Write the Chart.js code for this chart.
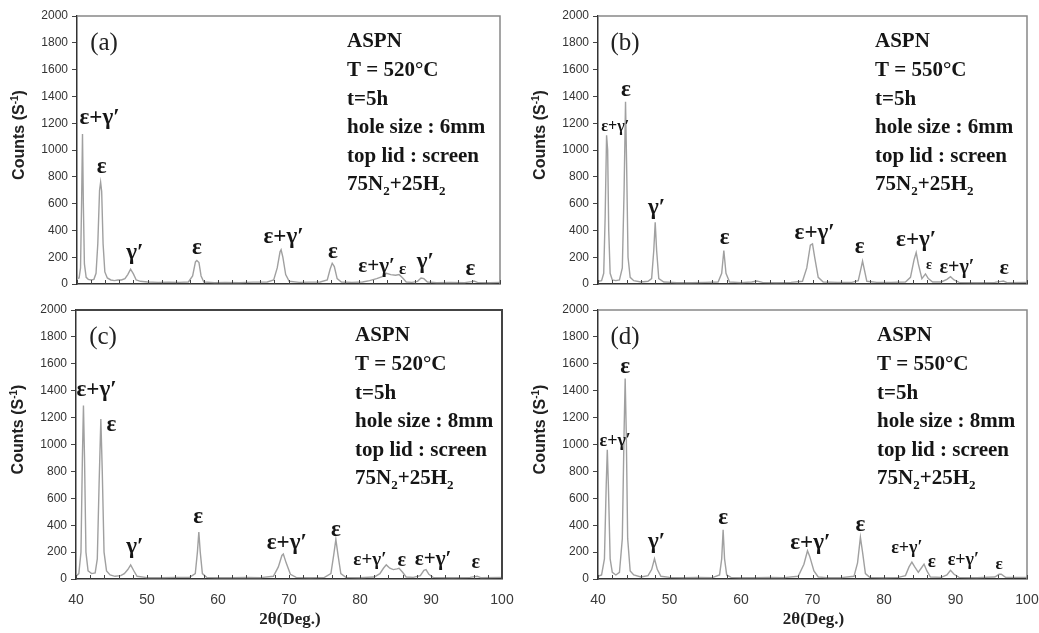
<!DOCTYPE html>
<html>
<head>
<meta charset="utf-8">
<script src="https://cdn.jsdelivr.net/npm/chart.js@4.4.1/dist/chart.umd.min.js"></script>
<style>
body { margin: 0; background: #fff; width: 1039px; height: 633px; position: relative; overflow: hidden; }
canvas { position: absolute; }
</style>
</head>
<body>
<canvas id="chart_a" width="520" height="295" style="left:0;top:0"></canvas>
<canvas id="chart_b" width="519" height="295" style="left:520px;top:0"></canvas>
<canvas id="chart_c" width="520" height="338" style="left:0;top:295px"></canvas>
<canvas id="chart_d" width="519" height="338" style="left:520px;top:295px"></canvas>
<script>
// XRD patterns: [2theta, counts]
const patternA = [
    [40.0, 40], [40.3, 45], [40.5, 120], [40.65, 600], [40.78, 1120], [40.9, 600], [41.05, 150], [41.3, 50],
    [41.6, 35], [42.0, 30], [42.4, 35], [42.7, 80], [42.95, 300], [43.2, 700], [43.35, 760], [43.5, 690],
    [43.7, 300], [43.95, 90], [44.3, 45], [44.8, 30], [45.3, 25], [45.8, 30], [46.3, 30], [46.8, 40],
    [47.2, 70], [47.6, 110], [48.0, 75], [48.4, 30], [49.0, 20], [50, 15], [51.5, 12], [53, 14],
    [54.5, 12], [55.8, 15], [56.4, 60], [56.8, 165], [57.0, 175], [57.3, 160], [57.6, 60], [58.0, 15],
    [59.5, 10], [61, 12], [63, 10], [65, 14], [67, 15], [67.9, 30], [68.4, 120], [68.8, 240],
    [68.95, 255], [69.2, 200], [69.6, 70], [70.1, 20], [71.5, 12], [73, 14], [74.5, 15], [75.5, 30],
    [75.9, 110], [76.2, 155], [76.5, 130], [76.9, 40], [77.5, 15], [79, 12], [80.5, 15], [81.5, 25],
    [82.5, 40], [83.3, 55], [83.9, 80], [84.5, 70], [85.2, 65], [85.7, 70], [86.2, 45], [86.7, 15],
    [87.5, 12], [88.3, 20], [88.8, 45], [89.2, 40], [89.7, 15], [91, 10], [93, 12], [95, 10],
    [96.0, 18], [96.3, 22], [96.8, 12], [98.5, 10], [100, 12]
]
const patternB = [
    [40.0, 20], [40.5, 25], [40.8, 80], [41.0, 500], [41.2, 1110], [41.35, 1000], [41.5, 400], [41.7, 80],
    [42.0, 30], [42.5, 25], [43.0, 30], [43.4, 120], [43.65, 700], [43.85, 1360], [44.0, 900], [44.2, 200],
    [44.5, 50], [45.0, 25], [46, 15], [47, 20], [47.5, 40], [47.8, 250], [48.0, 460], [48.2, 250],
    [48.5, 40], [49.2, 15], [51, 10], [53, 10], [55, 12], [56.8, 15], [57.3, 80], [57.6, 250],
    [57.9, 80], [58.4, 15], [60, 10], [61.5, 15], [62.2, 22], [63, 12], [65, 10], [67, 12],
    [68.6, 20], [69.2, 120], [69.7, 290], [70.0, 300], [70.3, 200], [70.8, 50], [71.5, 15], [73.5, 12],
    [75.5, 12], [76.4, 25], [76.8, 120], [77.0, 170], [77.2, 120], [77.6, 20], [79, 12], [81, 12],
    [83.0, 15], [83.7, 50], [84.2, 180], [84.5, 235], [84.8, 150], [85.3, 40], [85.8, 75], [86.2, 40],
    [86.8, 15], [88, 15], [88.8, 35], [89.3, 55], [89.8, 30], [90.5, 12], [93, 10], [95.5, 12],
    [96.4, 20], [96.7, 22], [97.2, 10], [100, 12]
]
const patternC = [
    [40, 20], [40.4, 40], [40.7, 200], [40.9, 900], [41.05, 1290], [41.2, 900], [41.4, 200], [41.7, 60],
    [42.2, 40], [42.7, 45], [43.0, 150], [43.25, 700], [43.5, 1190], [43.7, 800], [43.95, 200], [44.3, 60],
    [44.8, 30], [45.5, 20], [46.3, 25], [46.8, 40], [47.3, 70], [47.7, 105], [48.1, 65], [48.6, 20],
    [50, 10], [52, 10], [54, 12], [56, 12], [56.8, 40], [57.1, 200], [57.3, 350], [57.5, 200],
    [57.8, 40], [58.4, 12], [60, 10], [62, 10], [64, 12], [66, 10], [67.8, 20], [68.5, 90],
    [69.0, 175], [69.2, 185], [69.6, 120], [70.2, 35], [71, 12], [73, 10], [75, 12], [75.9, 40],
    [76.3, 180], [76.6, 295], [76.9, 180], [77.3, 40], [78, 12], [80, 10], [82.0, 15], [82.8, 40],
    [83.3, 80], [83.7, 105], [84.2, 80], [84.7, 70], [85.2, 75], [85.5, 80], [86.0, 50], [86.5, 15],
    [87.5, 12], [88.5, 25], [89.0, 65], [89.3, 70], [89.7, 35], [90.3, 12], [93, 10], [95.5, 12],
    [96.2, 18], [96.5, 20], [97, 10], [100, 12]
]
const patternD = [
    [40, 20], [40.5, 30], [40.9, 150], [41.15, 700], [41.3, 960], [41.45, 700], [41.7, 150], [42.0, 50],
    [42.5, 30], [43.0, 50], [43.4, 300], [43.65, 1100], [43.8, 1490], [43.95, 1100], [44.15, 300], [44.5, 60],
    [45.0, 30], [46, 15], [47, 25], [47.5, 70], [47.9, 150], [48.3, 70], [48.8, 20], [50, 12],
    [52, 10], [54, 12], [56, 10], [57.0, 30], [57.3, 150], [57.5, 365], [57.7, 150], [58.0, 30],
    [58.6, 12], [60, 10], [62, 10], [64, 12], [66, 10], [68, 20], [68.8, 110], [69.3, 210],
    [69.6, 170], [70.2, 60], [70.8, 15], [72, 10], [74, 10], [75.8, 20], [76.3, 120], [76.7, 310],
    [77.0, 200], [77.4, 40], [78, 12], [80, 10], [82, 12], [83.0, 25], [83.5, 90], [83.9, 125],
    [84.3, 90], [84.8, 50], [85.2, 80], [85.6, 110], [86.0, 60], [86.5, 15], [88, 12], [88.8, 30],
    [89.3, 65], [89.8, 35], [90.5, 12], [93, 10], [95.5, 15], [96.1, 35], [96.4, 35], [97.0, 12],
    [100, 12]
]

// peak labels: [2theta, counts, text, font px]
const labelsA = [
    [43.2, 1240, 'ε+γ′', 23], [43.5, 875, 'ε', 23], [48.2, 229, 'γ′', 23], [57.0, 266, 'ε', 23],
    [69.3, 353, 'ε+γ′', 23], [76.3, 241, 'ε', 23], [82.5, 129, 'ε+γ′', 21], [86.2, 110, 'ε', 17],
    [89.4, 166, 'γ′', 23], [95.8, 110, 'ε', 23]
]
const labelsB = [
    [42.4, 1174, 'ε+γ′', 16], [43.9, 1448, 'ε', 23], [48.2, 565, 'γ′', 23], [57.7, 341, 'ε', 23],
    [70.3, 378, 'ε+γ′', 23], [76.6, 274, 'ε', 23], [84.5, 328, 'ε+γ′', 23], [86.3, 142, 'ε', 14],
    [90.2, 117, 'ε+γ′', 20], [96.8, 117, 'ε', 22]
]
const labelsC = [
    [42.9, 1405, 'ε+γ′', 23], [45.0, 1145, 'ε', 23], [48.3, 240, 'γ′', 23], [57.2, 463, 'ε', 23],
    [69.7, 265, 'ε+γ′', 23], [76.6, 364, 'ε', 23], [81.4, 141, 'ε+γ′', 19], [85.9, 136, 'ε', 20],
    [90.3, 141, 'ε+γ′', 21], [96.3, 117, 'ε', 20]
]
const labelsD = [
    [42.4, 1021, 'ε+γ′', 18], [43.8, 1579, 'ε', 23], [48.2, 277, 'γ′', 23], [57.5, 451, 'ε', 23],
    [69.7, 265, 'ε+γ′', 23], [76.7, 401, 'ε', 23], [83.2, 228, 'ε+γ′', 18], [86.7, 129, 'ε', 19],
    [91.1, 141, 'ε+γ′', 18], [96.1, 104, 'ε', 17]
]

// "_2" means subscript 2
const infoA = ['ASPN', 'T = 520°C', 't=5h', 'hole size : 6mm', 'top lid : screen', '75N_2+25H_2']
const infoB = ['ASPN', 'T = 550°C', 't=5h', 'hole size : 6mm', 'top lid : screen', '75N_2+25H_2']
const infoC = ['ASPN', 'T = 520°C', 't=5h', 'hole size : 8mm', 'top lid : screen', '75N_2+25H_2']
const infoD = ['ASPN', 'T = 550°C', 't=5h', 'hole size : 8mm', 'top lid : screen', '75N_2+25H_2']

const panels = [
    {id: 'chart_a', tag: '(a)', data: patternA, labels: labelsA, info: infoA, infoX: 270, w: 520, h: 295, left: 77, top: 16, right: 500, bottom: 284, xLabels: false, frame: '#888', frameW: 1.5},
    {id: 'chart_b', tag: '(b)', data: patternB, labels: labelsB, info: infoB, infoX: 277, w: 519, h: 295, left: 78, top: 16, right: 507, bottom: 284, xLabels: false, frame: '#888', frameW: 1.5},
    {id: 'chart_c', tag: '(c)', data: patternC, labels: labelsC, info: infoC, infoX: 279, w: 520, h: 338, left: 76, top: 15, right: 502, bottom: 284, xLabels: true, frame: '#444', frameW: 2},
    {id: 'chart_d', tag: '(d)', data: patternD, labels: labelsD, info: infoD, infoX: 279, w: 519, h: 338, left: 78, top: 15, right: 507, bottom: 284, xLabels: true, frame: '#888', frameW: 1.5},
]

const SERIF = "'Liberation Serif', 'Times New Roman', serif"
const SANS = "'Liberation Sans', Arial, sans-serif"

function draw_sub_line(ctx, text, x, y, size) {
    // draws text where "_c" puts c as subscript
    let cx = x
    let i = 0
    while (i < text.length) {
        if (text[i] === '_') {
            ctx.font = "bold " + Math.round(size * 0.6) + "px " + SERIF
            ctx.fillText(text[i + 1], cx, y + size * 0.32)
            cx += ctx.measureText(text[i + 1]).width
            i += 2
        } else {
            let j = i
            while (j < text.length && text[j] !== '_') j++
            ctx.font = "bold " + size + "px " + SERIF
            ctx.fillText(text.slice(i, j), cx, y)
            cx += ctx.measureText(text.slice(i, j)).width
            i = j
        }
    }
}

function text_plugin(p) {
    return {
        id: 'panel_text_' + p.id,
        afterDraw(chart) {
            const ctx = chart.ctx
            const a = chart.chartArea
            const xs = chart.scales.x
            const ys = chart.scales.y
            ctx.save()

            // top and right frame
            ctx.strokeStyle = p.frame
            ctx.lineWidth = p.frameW
            ctx.beginPath()
            ctx.moveTo(a.left, a.top)
            ctx.lineTo(a.right, a.top)
            ctx.lineTo(a.right, a.bottom)
            ctx.stroke()

            // x ticks point inward
            ctx.strokeStyle = '#444'
            ctx.lineWidth = 1
            ctx.beginPath()
            for (let t of xs.ticks) {
                const px = Math.round(xs.getPixelForValue(t.value)) + 0.5
                ctx.moveTo(px, a.bottom)
                ctx.lineTo(px, a.bottom - 4)
            }
            ctx.stroke()

            ctx.fillStyle = '#151515'
            ctx.textAlign = 'center'
            ctx.textBaseline = 'middle'
            for (let [x, y, txt, size] of p.labels) {
                ctx.font = "bold " + size + "px " + SERIF
                ctx.fillText(txt, xs.getPixelForValue(x), ys.getPixelForValue(y))
            }

            // panel tag
            ctx.font = "25px " + SERIF
            ctx.fillStyle = '#222'
            ctx.fillText(p.tag, a.left + 27, a.top + 27)

            // condition block
            ctx.fillStyle = '#151515'
            ctx.textAlign = 'left'
            p.info.forEach((line, k) => {
                draw_sub_line(ctx, line, a.left + p.infoX, a.top + 26 + k * 28.6, 21)
            })

            // y axis title with superscript
            ctx.save()
            ctx.translate(a.left - 57, (a.top + a.bottom) / 2 - 15)
            ctx.rotate(-Math.PI / 2)
            ctx.fillStyle = '#222'
            ctx.textAlign = 'left'
            const big = "bold 16px " + SANS
            const small = "bold 10px " + SANS
            ctx.font = big
            const w1 = ctx.measureText('Counts (S').width
            const w3 = ctx.measureText(')').width
            ctx.font = small
            const w2 = ctx.measureText('-1').width
            let sx = -(w1 + w2 + w3) / 2
            ctx.font = big
            ctx.fillText('Counts (S', sx, 0)
            ctx.font = small
            ctx.fillText('-1', sx + w1, -5)
            ctx.font = big
            ctx.fillText(')', sx + w1 + w2, 0)
            ctx.restore()

            if (p.xLabels) {
                ctx.textAlign = 'center'
                ctx.fillStyle = '#222'
                ctx.font = "bold 17px " + SERIF
                ctx.fillText('2θ(Deg.)', (a.left + a.right) / 2 + 1, 325)
            }
            ctx.restore()
        }
    }
}

for (let p of panels) {
    new Chart(p.id, {
        type: 'line',
        data: {
            datasets: [{
                data: p.data,
                borderColor: '#a0a0a0',
                borderWidth: 1.4,
                pointRadius: 0,
                tension: 0,
                fill: false
            }]
        },
        options: {
            responsive: false,
            animation: false,
            events: [],
            layout: {padding: {left: 0, top: p.top, right: p.w - p.right, bottom: 0}},
            plugins: {legend: {display: false}, tooltip: {enabled: false}},
            scales: {
                x: {
                    type: 'linear', min: 40, max: 100,
                    border: {color: '#333', width: 1.5},
                    grid: {drawOnChartArea: false, drawTicks: false},
                    ticks: {
                        stepSize: 2, autoSkip: false, maxRotation: 0, padding: 13,
                        color: '#3a3a3a', font: {family: SANS, size: 14},
                        callback: (v) => (p.xLabels && v % 10 === 0) ? String(v) : ''
                    },
                    afterFit: (s) => {
                        s.height = p.h - p.bottom
                        s.paddingLeft = 0
                        s.paddingRight = 0
                    }
                },
                y: {
                    min: 0, max: 2000,
                    border: {color: '#333', width: 1.5},
                    grid: {drawOnChartArea: false, tickLength: 5, color: '#444'},
                    ticks: {
                        stepSize: 200, padding: 4, color: '#333', font: {family: SANS, size: 12},
                        callback: (v) => String(v)
                    },
                    afterFit: (s) => {
                        s.width = p.left
                        s.paddingTop = 0
                        s.paddingBottom = 0
                    }
                }
            }
        },
        plugins: [text_plugin(p)]
    })
}
</script>
</body>
</html>
